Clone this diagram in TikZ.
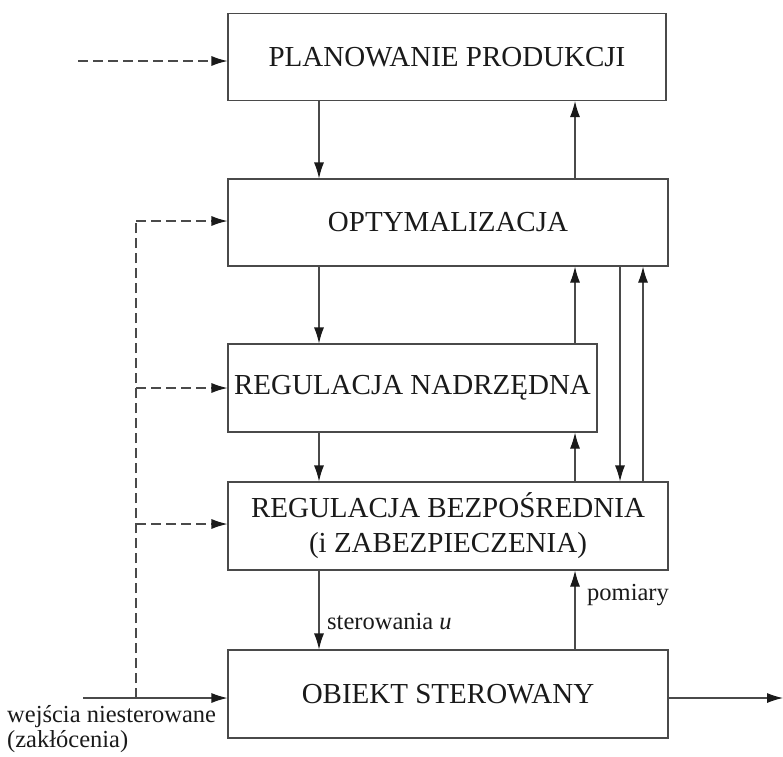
\documentclass[tikz,border=0pt]{standalone}
\usepackage{fontspec}
\setmainfont{Liberation Serif}
\usetikzlibrary{arrows.meta,calc}
\definecolor{linegray}{HTML}{4A4A4A}
\definecolor{inkgray}{HTML}{1A1A1A}
\begin{document}
\begin{tikzpicture}[x=1pt,y=-1pt,
  block/.style={draw=linegray,line width=1.1pt,fill=white,inner sep=0pt,
    font=\fontsize{29}{35}\selectfont,text=inkgray,align=center},
  flow/.style={draw=linegray,line width=1.1pt,
    -{Latex[length=16pt,width=10pt,color=inkgray]}},
  feed/.style={flow,dash pattern=on 10pt off 5pt},
  feedline/.style={draw=linegray,line width=1.1pt,dash pattern=on 10pt off 5pt},
  lbl/.style={font=\fontsize{24.5}{28}\selectfont,text=inkgray,inner sep=0pt}]
\useasboundingbox (0,0) rectangle (783,756);

% blocks of the control hierarchy
\node[block,minimum width=438pt,minimum height=87pt] (plan) at (447,57) {PLANOWANIE PRODUKCJI};
\node[block,minimum width=440pt,minimum height=87pt] (opt)  at (448,222.5) {OPTYMALIZACJA};
\node[block,minimum width=369pt,minimum height=88pt] (nadr) at (412.5,388) {REGULACJA NADRZĘDNA};
\node[block,minimum width=440pt,minimum height=88pt] (bezp) at (448,526) {REGULACJA BEZPOŚREDNIA\\(i ZABEZPIECZENIA)};
\node[block,minimum width=440pt,minimum height=88pt] (obj)  at (448,694) {OBIEKT STEROWANY};

% downward commands
\foreach \a/\b in {plan/opt,opt/nadr,nadr/bezp,bezp/obj}
  \draw[flow] (\a.south -| 319,0) -- (\b.north -| 319,0);
% upward reports
\foreach \a/\b in {obj/bezp,bezp/nadr,nadr/opt,opt/plan}
  \draw[flow] (\a.north -| 575,0) -- (\b.south -| 575,0);
% direct links between optimisation and direct control
\draw[flow] (opt.south -| 620,0) -- (bezp.north -| 620,0);
\draw[flow] (bezp.north -| 643,0) -- (opt.south -| 643,0);

% external inputs
\coordinate (topin) at (78,61);
\draw[feed] (topin) -- (topin -| plan.west);
\coordinate (inA) at (83,698);
\coordinate (tap) at (136,698);
\coordinate (tapTop) at (136,221);
\draw[flow] (inA) -- (inA -| obj.west);
\draw[feedline] (tap) -- (tapTop);
\draw[feed] (tapTop) -- (tapTop -| opt.west);
\coordinate (tapN) at (136,388);
\coordinate (tapB) at (136,524);
\draw[feed] (tapN) -- (tapN -| nadr.west);
\draw[feed] (tapB) -- (tapB -| bezp.west);

% plant output
\coordinate (outE) at (783,698);
\draw[flow] (obj.east |- outE) -- (outE);

% labels
\node[lbl,anchor=west] (lu) at (327,622) {sterowania \textit{u}};
\node[lbl,anchor=west] (lp) at (587,595) {pomiary};
\node[lbl,anchor=north west,align=left,font=\fontsize{24.5}{25}\selectfont] (lin) at (7,705)
  {wejścia niesterowane\\(zakłócenia)};
\end{tikzpicture}
\end{document}
